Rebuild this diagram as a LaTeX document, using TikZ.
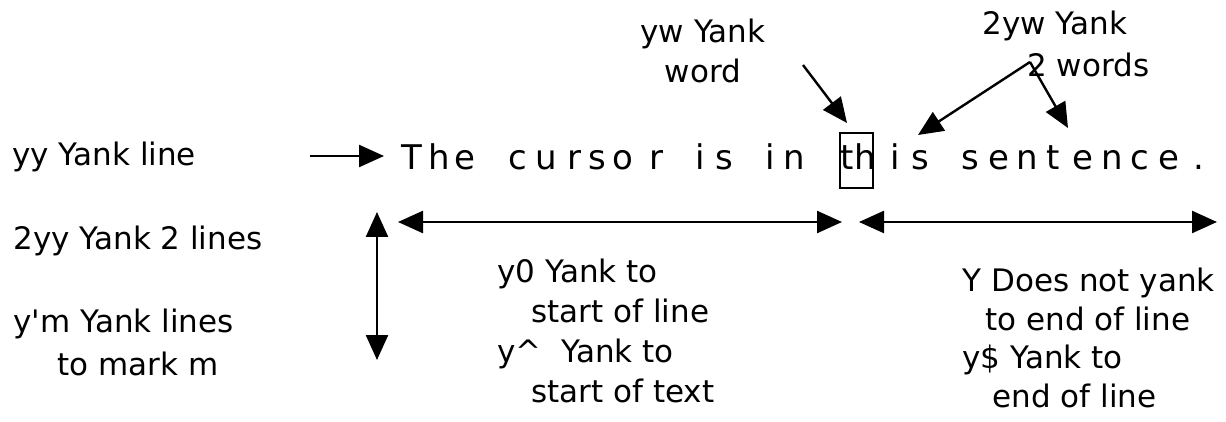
\documentclass[tikz,border=0pt]{standalone}
\usepackage{fontspec}
\setmainfont{DejaVu Sans}
\usetikzlibrary{arrows.meta}

\begin{document}
\begin{tikzpicture}[x=0.5pt,y=-0.5pt,
  tip/.style={-{Triangle[length=12.5pt,width=11pt]}},
  arr/.style={line width=1.2pt,tip},
  darr/.style={line width=1.2pt,{Triangle[length=12.5pt,width=11pt]}-{Triangle[length=12.5pt,width=11pt]}},
  lbl/.style={anchor=north west,inner sep=0pt,align=left,font=\fontsize{15.5}{20}\selectfont},
  glyph/.style={anchor=base,inner sep=0pt,font=\fontsize{17}{20}\selectfont}]
\useasboundingbox (0,0) rectangle (1226,422);

% the text line, one letter at a time
\foreach \c/\x [count=\i] in {T/412,h/439,e/465,c/518,u/546,r/574,s/597,o/623,r/656,
    i/700,s/724,i/770,n/794,t/847,h/865,i/895,s/920,
    s/970,e/999,n/1027,t/1053,e/1083,n/1112,c/1140,e/1169,./1199}
  \node[glyph] (ch\i) at (\x,170) {\c};
\node[draw,line width=1pt,minimum width=16.5pt,minimum height=27.5pt,inner sep=0pt] (cursor) at (856.5,160.5) {};

% commands
\node[lbl] (yy) at (12,142) {yy Yank line};
\node[lbl] (yyn) at (13,226) {2yy Yank 2 lines};
\node[lbl,font=\fontsize{15.5}{21.5}\selectfont] (ymark) at (13,309) {y\textquotesingle m Yank lines\\\hspace*{22pt}to mark m};
\node[lbl,anchor=north,align=center] (yw) at (703,19) {yw Yank\\word};
\node[lbl,font=\fontsize{15.5}{21}\selectfont] (ywn) at (982,11) {2yw Yank\\\hspace*{22.5pt}2 words};
\node[lbl] (ystart) at (497,259) {y0 Yank to\\\hspace*{17pt}start of line\\y\textasciicircum\ \ Yank to\\\hspace*{17pt}start of text};
\node[lbl,font=\fontsize{15.5}{19.2}\selectfont] (yend) at (962,268) {Y Does not yank\\\hspace*{11.5pt}to end of line\\y\$ Yank to\\\hspace*{15pt}end of line};

% arrows
\coordinate (lnA) at (310,156);
\coordinate (lnB) at (384,156);
\coordinate (upB) at (377,212);
\coordinate (dnB) at (377,360);
\coordinate (solB) at (398,222);
\coordinate (curL) at (842,222);
\coordinate (curR) at (859,222);
\coordinate (eolB) at (1217,222);
\coordinate (ywA) at (803,65);
\coordinate (ywB) at (847,123);
\coordinate (twA) at (1030,62);
\coordinate (twB) at (918,135);
\coordinate (twC) at (1068,128);

\draw[arr] (lnA) -- (lnB);
\draw[darr] (upB) -- (dnB);
\draw[darr] (solB) -- (curL);
\draw[darr] (curR) -- (eolB);
\draw[arr] (ywA) -- (ywB);
\draw[arr] (twA) -- (twB);
\draw[arr] (twA) -- (twC);
\end{tikzpicture}
\end{document}
